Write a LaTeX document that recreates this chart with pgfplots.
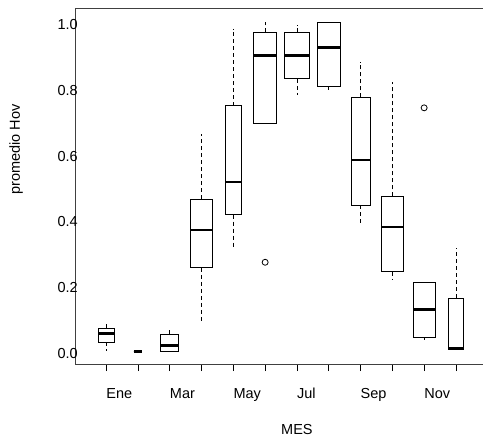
\documentclass[border=0pt]{standalone}
\usepackage{pgfplots}
\pgfplotsset{compat=1.18}
\usepgfplotslibrary{statistics}
\usepackage{fontspec}
\setmainfont{Liberation Sans}
\newcommand{\lab}{\fontsize{14.5}{17}\selectfont}
% R style whiskers: solid staple (half the box width), dashed line to the box
% (#1 whisker value, #2 quartile value); cap = half width of the staple in axis units
\pgfplotsset{
	/pgfplots/boxplot/cap/.initial=0.1,
	/pgfplots/boxplot/draw/whisker/.code 2 args={%
		\draw[/pgfplots/boxplot/every whisker/.try, solid]
			(boxplot cs:#1,-\pgfkeysvalueof{/pgfplots/boxplot/cap}) -- (boxplot cs:#1,\pgfkeysvalueof{/pgfplots/boxplot/cap})
			(boxplot cs:#1) edge[dash pattern=on 4pt off 3pt] (boxplot cs:#2);
	},
	/pgfplots/boxplot/every median/.style={line width=2.8pt},
}
% position, lower whisker, Q1, median, Q3, upper whisker, box width, staple half width
\newcommand{\bx}[8]{
	\addplot[black, line width=0.8pt, mark=o, mark size=3pt,
	boxplot prepared={draw position=#1, lower whisker=#2, lower quartile=#3,
		median=#4, upper quartile=#5, upper whisker=#6, box extend=#7, cap=#8}
	] coordinates {};
}
\newcommand{\bxout}[9]{
	\addplot[black, line width=0.8pt, mark=o, mark size=3pt,
	boxplot prepared={draw position=#1, lower whisker=#2, lower quartile=#3,
		median=#4, upper quartile=#5, upper whisker=#6, box extend=#7, cap=#8}
	] table[row sep=\\, y index=0] {y\\ #9\\};
}
\begin{document}
\begin{tikzpicture}
	\begin{axis}[
		scale only axis,
		width=412.1pt, height=355.3pt,
		xmin=0.02, xmax=12.98,
		ymin=-0.0303, ymax=1.0464,
		boxplot/draw direction=y,
		axis line style={black!75, line width=0.8pt},
		xtick={1,...,12},
		xticklabels={Ene,,Mar,,May,,Jul,,Sep,,Nov,},
		ytick={0,0.2,0.4,0.6,0.8,1},
		yticklabels={0.0,0.2,0.4,0.6,0.8,1.0},
		xtick pos=bottom,
		tick align=outside,
		major tick length=7pt,
		xtick style={black, line width=0.8pt},
		ytick style={draw=none},
		xticklabel style={font=\lab, anchor=base west, inner sep=0pt, yshift=-27pt},
		yticklabel style={font=\lab, anchor=east, inner sep=0pt, xshift=10pt},
		]
		\bx{1}{0.008}{0.035}{0.063}{0.078}{0.091}{0.50}{0.14}
		\bx{2}{0.008}{0.008}{0.008}{0.008}{0.008}{0.25}{0.06}
		\bx{3}{0.008}{0.008}{0.025}{0.060}{0.080}{0.57}{0.15}
		\bx{4}{0.093}{0.261}{0.376}{0.469}{0.668}{0.68}{0.18}
		\bx{5}{0.322}{0.422}{0.521}{0.752}{0.986}{0.50}{0.14}
		\bxout{6}{0.699}{0.699}{0.905}{0.975}{1.006}{0.71}{0.19}{0.278}
		\bx{7}{0.784}{0.834}{0.905}{0.975}{0.998}{0.80}{0.21}
		\bx{8}{0.796}{0.811}{0.930}{1.004}{1.004}{0.71}{0.19}
		\bx{9}{0.393}{0.451}{0.588}{0.778}{0.885}{0.59}{0.16}
		\bx{10}{0.224}{0.249}{0.385}{0.478}{0.823}{0.71}{0.19}
		\bxout{11}{0.042}{0.0515}{0.136}{0.218}{0.218}{0.70}{0.18}{0.746}
		\bx{12}{0.015}{0.015}{0.016}{0.170}{0.322}{0.48}{0.13}
	\end{axis}
	\node[font=\lab, anchor=base west, inner sep=0pt] at (206pt,-70pt) {MES};
	\node[font=\lab, anchor=base west, inner sep=0pt, rotate=90] at (-55pt,169pt) {promedio Hov};
	\pgfresetboundingbox
	\path[use as bounding box] (-75pt,-76pt) rectangle (408pt,364pt);
\end{tikzpicture}
\end{document}
